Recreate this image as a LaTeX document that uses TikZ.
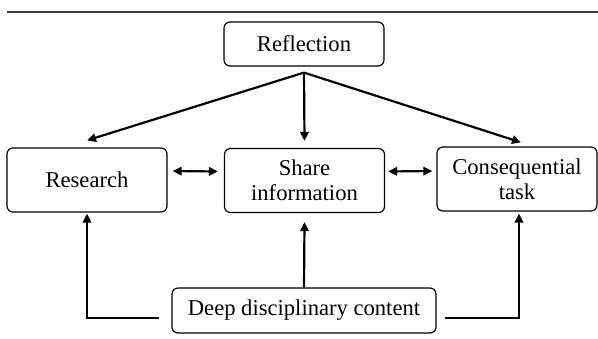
\documentclass[tikz,border=0pt]{standalone}
\usepackage{fontspec}
\setmainfont{Liberation Serif}
\usetikzlibrary{arrows.meta,positioning}
\usetikzlibrary{calc}

\tikzset{>={Triangle[length=4.5pt,width=4.2pt]},
         box/.style={draw,rounded corners=3pt,line width=0.6pt,align=center,inner sep=1pt,
                     minimum width=80pt,minimum height=32pt,font=\fontsize{11.3}{12.6}\selectfont},
         arr/.style={line width=1.1pt,->}}

\begin{document}
\begin{tikzpicture}[x=0.5pt,y=-0.5pt]

\useasboundingbox (0,0) rectangle (598,338);
\draw[line width=0.7pt,black!75] (7,12)--(598,12);

\node[box,minimum height=22pt] (refl) at (304,44) {Reflection};
\node[box] (res) at (87,180) {Research};
\node[box] (share) at (304.5,180.5) {Share\\information};
\node[box] (cons) at (517,179) {Consequential\\task};
\node[box,minimum width=132pt,minimum height=22.5pt] (deep) at (304,310.5) {Deep disciplinary content};

\coordinate (apex) at ([yshift=-3pt]refl.south);
\draw[arr] (apex)--([yshift=3.5pt]res.north);
\draw[arr] (apex)--([yshift=3.5pt]share.north);
\draw[arr] (apex)--([xshift=2pt,yshift=2pt]cons.north);

\draw[arr,<->] ([xshift=2.5pt,yshift=4.5pt]res.east)--([xshift=-3pt,yshift=4.5pt]share.west);
\draw[arr,<->] ([xshift=1.5pt,yshift=4.5pt]share.east)--([xshift=-2pt,yshift=4pt]cons.west);

\draw[arr] (deep.north)--([yshift=-4.5pt]share.south);
\draw[arr] ([xshift=-6pt,yshift=-3.75pt]deep.west)-|([yshift=-0.5pt]res.south);
\draw[arr] ([xshift=4pt,yshift=-3.75pt]deep.east)-|([xshift=1pt,yshift=-1pt]cons.south);

\end{tikzpicture}
\end{document}
